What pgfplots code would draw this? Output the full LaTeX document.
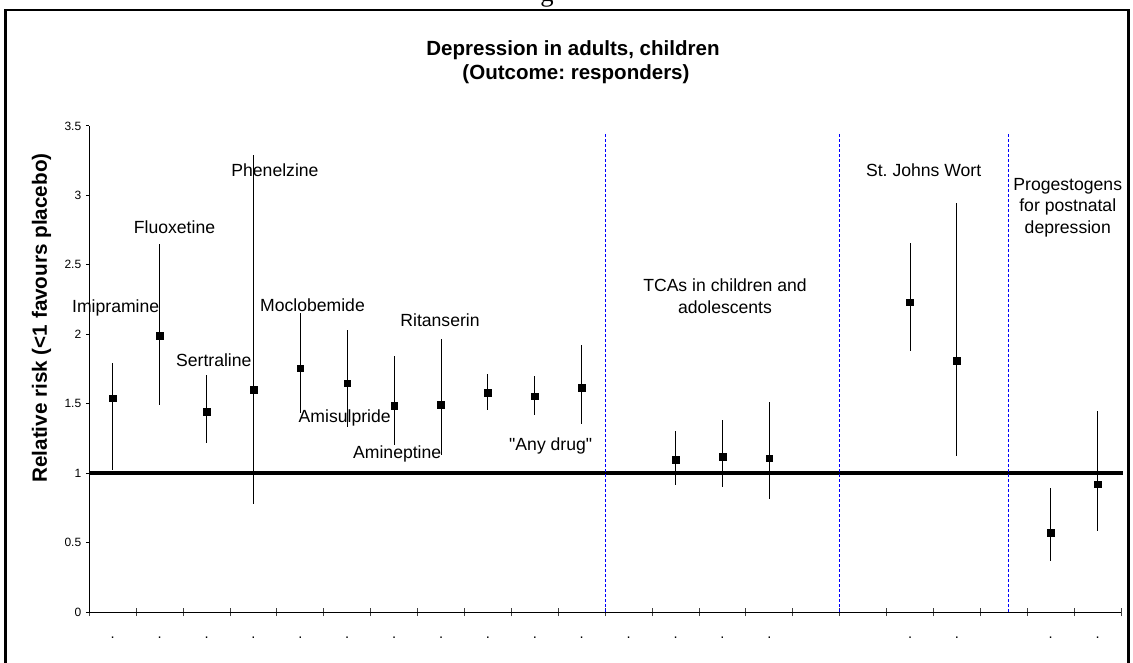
\documentclass[border=0pt]{standalone}
\usepackage{fontspec}
\setmainfont{Liberation Sans}[Ligatures=TeXOff]
\newfontfamily\seriffont{Liberation Serif}
\usepackage{pgfplots}
\pgfplotsset{compat=1.18}
\usepackage{pgfplotstable}
\frenchspacing

\pgfplotstableread{
x y ep em
0 1.540 0.250 0.520
1 1.990 0.660 0.500
2 1.440 0.265 0.225
3 1.600 1.690 0.825
4 1.755 0.395 0.325
5 1.647 0.383 0.312
6 1.487 0.353 0.287
7 1.493 0.472 0.363
8 1.580 0.130 0.125
9 1.553 0.147 0.138
10 1.613 0.312 0.263
12 1.095 0.210 0.180
13 1.120 0.263 0.217
14 1.107 0.403 0.297
17 2.230 0.425 0.348
18 1.810 1.133 0.690
20 0.571 0.319 0.201
21 0.919 0.528 0.333
}\rr

\newcommand\ann{\fontsize{13.2pt}{16pt}\selectfont}

\begin{document}
\frenchspacing
\begin{tikzpicture}[x=0.75pt,y=0.75pt]
\begin{axis}[
  at={(66.975pt,37.5pt)}, anchor=south west,
  scale only axis, width=773.85pt, height=364.6pt,
  xmin=-0.5, xmax=21.5, ymin=0, ymax=3.5,
  clip=false,
  axis lines*=left,
  axis line style={black, line width=0.75pt},
  ytick={0,0.5,...,3.5},
  tick align=outside, major tick length=2.5pt,
  tick style={black, line width=0.75pt},
  xtick={-0.5,0.5,...,21.5},
  x tick label as interval,
  xticklabels={.,.,.,.,.,.,.,.,.,.,.,.,.,.,.,{},{},.,.,{},.,.,{}},
  xtick style={/pgfplots/major tick length=6pt, yshift=3pt, black!75},
  /pgf/number format/assume math mode=true,
  tick label style={font=\fontsize{9pt}{10pt}\selectfont},
  xticklabel style={font=\fontsize{11pt}{12pt}\selectfont, text=black, yshift=-13pt},
]
\addplot[black, line width=3pt, forget plot] coordinates {(-0.5,1) (21.55,1)};
\addplot[blue, line width=0.75pt, dash pattern=on 2.25pt off 1.5pt, forget plot] coordinates {(10.5,0) (10.5,3.45)};
\addplot[blue, line width=0.75pt, dash pattern=on 2.25pt off 1.5pt, forget plot] coordinates {(15.5,0) (15.5,3.45)};
\addplot[blue, line width=0.75pt, dash pattern=on 2.25pt off 1.5pt, forget plot] coordinates {(19.09,0) (19.09,3.45)};
\addplot[only marks, mark=square*, mark size=2.5pt, black,
  error bars/.cd, y dir=both, y explicit, error mark=none,
  error bar style={line width=0.75pt, black}]
  table[x=x, y=y, y error plus=ep, y error minus=em]{\rr};

\node[anchor=base, font=\ann] at (axis cs:0.063,2.155) {Imipramine};
\node[anchor=base, font=\ann] at (axis cs:1.317,2.726) {Fluoxetine};
\node[anchor=base, font=\ann] at (axis cs:2.155,1.771) {Sertraline};
\node[anchor=base, font=\ann] at (axis cs:3.459,3.132) {Phenelzine};
\node[anchor=base, font=\ann] at (axis cs:4.259,2.167) {Moclobemide};
\node[anchor=base, font=\ann] at (axis cs:4.946,1.363) {Amisulpride};
\node[anchor=base, font=\ann] at (axis cs:6.065,1.104) {Amineptine};
\node[anchor=base, font=\ann] at (axis cs:6.978,2.054) {Ritanserin};
\node[anchor=base, font=\ann] at (axis cs:9.338,1.166) {"Any drug"};
\node[anchor=base, font=\ann] at (axis cs:13.054,2.304) {TCAs in children and};
\node[anchor=base, font=\ann] at (axis cs:13.054,2.151) {adolescents};
\node[anchor=base, font=\ann] at (axis cs:17.29,3.132) {St. Johns Wort};
\node[anchor=base, font=\ann] at (axis cs:20.363,3.038) {Progestogens};
\node[anchor=base, font=\ann] at (axis cs:20.363,2.880) {for postnatal};
\node[anchor=base, font=\ann] at (axis cs:20.363,2.722) {depression};
\end{axis}

\node[anchor=base, font=\bfseries\fontsize{15.4pt}{18pt}\selectfont] at (573,606.5) {Depression in adults, children};
\node[anchor=base, font=\bfseries\fontsize{15.4pt}{18pt}\selectfont] at (576,582) {(Outcome: responders)};
\node[rotate=90, font=\bfseries\fontsize{15.5pt}{18pt}\selectfont] at (41.5,344) {Relative risk (<1 favours placebo)};
\draw[line width=1.9pt] (5.5,-40) -- (5.5,652) -- (1128.5,652) -- (1128.5,-40);
\node[anchor=base, inner sep=0pt, font=\seriffont\fontsize{20pt}{22pt}\selectfont] at (547,660) {g};

\pgfresetboundingbox
\useasboundingbox (0,0) rectangle (1133,662);
\end{tikzpicture}
\end{document}
